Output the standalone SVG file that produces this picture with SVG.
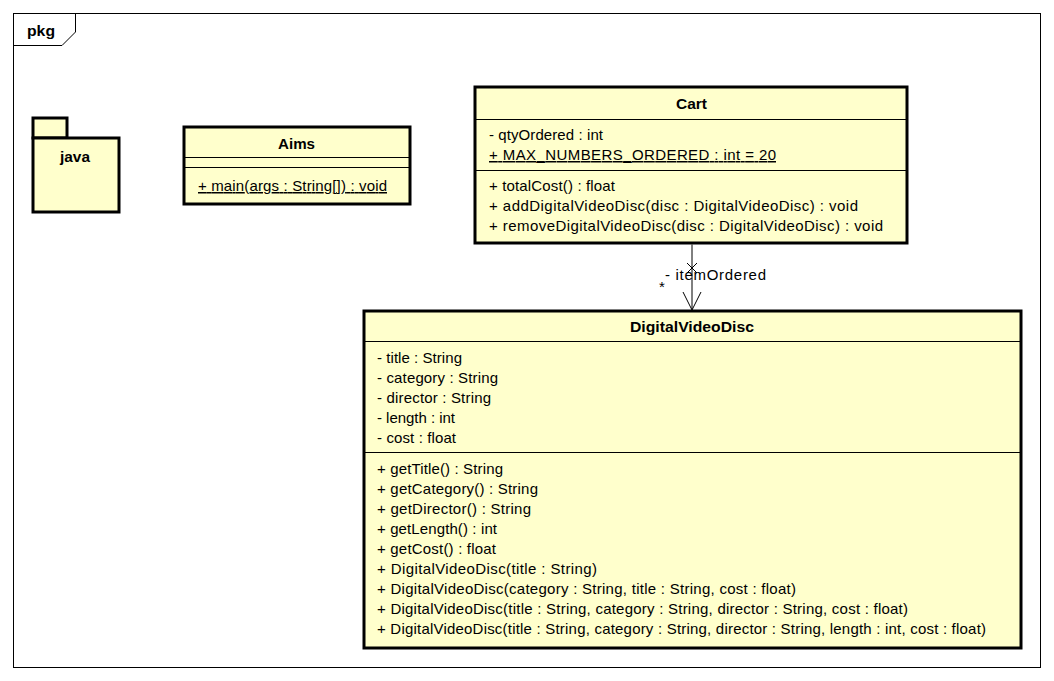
<svg xmlns="http://www.w3.org/2000/svg" width="1054" height="681" viewBox="0 0 1054 681">
<style>
text{font-family:"Liberation Sans",Arial,sans-serif;font-size:15px;fill:#000}
.b{font-weight:bold}
.m{text-anchor:middle}
.box{fill:#ffffcc;stroke:#000;stroke-width:3}
.sep{stroke:#000;stroke-width:1;fill:none}
.u{text-decoration:underline}
</style>
<rect width="1054" height="681" fill="#fff"/>
<g id="frame">
<rect x="13.5" y="13.5" width="1027" height="654" fill="none" stroke="#000"/>
<path d="M13.5 45.5 H62 L75.5 32 V13.5" fill="none" stroke="#000"/>
<text x="27" y="36" class="b" textLength="28" lengthAdjust="spacingAndGlyphs">pkg</text>
</g>
<g id="java">
<rect x="33" y="118" width="34" height="20" class="box"/>
<rect x="33" y="138" width="86" height="74" class="box"/>
<text x="60" y="162" class="b" textLength="30" lengthAdjust="spacingAndGlyphs">java</text>
</g>
<g id="Aims">
<rect x="184" y="127" width="226" height="77" class="box"/>
<line x1="184" y1="157.5" x2="410" y2="157.5" class="sep"/>
<line x1="184" y1="167.5" x2="410" y2="167.5" class="sep"/>
<text x="278" y="149" class="b" textLength="37" lengthAdjust="spacingAndGlyphs">Aims</text>
<text x="198" y="191" class="u" textLength="189">+ main(args : String[]) : void</text>
</g>
<g id="Cart">
<rect x="475" y="87" width="432" height="156" class="box"/>
<line x1="475" y1="119.5" x2="907" y2="119.5" class="sep"/>
<line x1="475" y1="170.5" x2="907" y2="170.5" class="sep"/>
<text x="676" y="109" class="b" textLength="31" lengthAdjust="spacingAndGlyphs">Cart</text>
<text x="489" y="140" textLength="114">- qtyOrdered : int</text>
<text x="489" y="160" class="u" textLength="287">+ MAX_NUMBERS_ORDERED : int = 20</text>
<text x="489" y="191" textLength="126">+ totalCost() : float</text>
<text x="489" y="211" textLength="369">+ addDigitalVideoDisc(disc : DigitalVideoDisc) : void</text>
<text x="489" y="231" textLength="394">+ removeDigitalVideoDisc(disc : DigitalVideoDisc) : void</text>
</g>
<g id="DigitalVideoDisc">
<rect x="364" y="311" width="657" height="337" class="box"/>
<line x1="364" y1="341.5" x2="1021" y2="341.5" class="sep"/>
<line x1="364" y1="452.5" x2="1021" y2="452.5" class="sep"/>
<text x="630" y="332" class="b" textLength="124" lengthAdjust="spacingAndGlyphs">DigitalVideoDisc</text>
<text x="377" y="363" textLength="85">- title : String</text>
<text x="377" y="383" textLength="121">- category : String</text>
<text x="377" y="403" textLength="114">- director : String</text>
<text x="377" y="423" textLength="78">- length : int</text>
<text x="377" y="443" textLength="79">- cost : float</text>
<text x="377" y="474" textLength="126">+ getTitle() : String</text>
<text x="377" y="494" textLength="161">+ getCategory() : String</text>
<text x="377" y="514" textLength="154">+ getDirector() : String</text>
<text x="377" y="534" textLength="120">+ getLength() : int</text>
<text x="377" y="554" textLength="119">+ getCost() : float</text>
<text x="377" y="574" textLength="220">+ DigitalVideoDisc(title : String)</text>
<text x="377" y="594" textLength="419">+ DigitalVideoDisc(category : String, title : String, cost : float)</text>
<text x="377" y="614" textLength="531">+ DigitalVideoDisc(title : String, category : String, director : String, cost : float)</text>
<text x="377" y="634" textLength="609">+ DigitalVideoDisc(title : String, category : String, director : String, length : int, cost : float)</text>
</g>
<g id="connectors" stroke="#000" fill="none">
<line x1="692" y1="244.5" x2="692" y2="309.5"/>
<path d="M683 292 L692 310 L701 292"/>
<path d="M687 263 L697 273 M697 263 L687 273"/>
<text x="665" y="280" stroke="none" textLength="101">- itemOrdered</text>
<text x="659" y="292" stroke="none">*</text>
</g>
</svg>
